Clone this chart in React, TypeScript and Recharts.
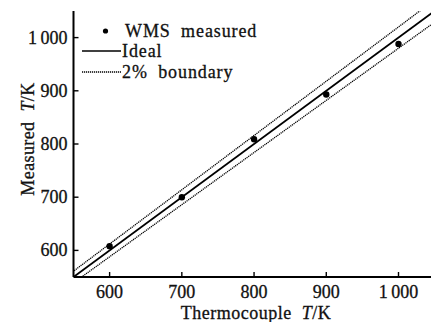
import React from "react";
import {
  ComposedChart,
  Line,
  Scatter,
  XAxis,
  YAxis,
  Legend,
} from "recharts";

// thermocouple reading vs. WMS measured temperature (K)
const thermocouple = [600, 700, 800, 900, 1000];
const measured = [608, 700, 809, 893, 988];

// ideal line and the ±2 % band, as end points
const refX = [500, 1100];
const idealY = [500, 1100];
const upperY = [510, 1122];
const lowerY = [490, 1078];

const xTicks = [600, 700, 800, 900, 1000];
const yTicks = [600, 700, 800, 900, 1000];

const FONT = '"Liberation Serif", "Times New Roman", serif';
const TXT = { fill: "#111", stroke: "#111", strokeWidth: 0.3 };

const pointData = thermocouple.map((x, i) => ({ x, y: measured[i] }));
const refData = refX.map((x, i) => ({
  x,
  ideal: idealY[i],
  upper: upperY[i],
  lower: lowerY[i],
}));

const fmt = (v: number) => (v >= 1000 ? "1\u2009000" : String(v));

const XTick = (props: any) => {
  const { x, y, payload } = props;
  return (
    <g>
      <line x1={x} x2={x} y1={y} y2={y - 5} stroke="#000" strokeWidth={1.4} />
      <text x={x} y={y + 21} textAnchor="middle" fontFamily={FONT} fontSize={18} {...TXT}>
        {fmt(payload.value)}
      </text>
    </g>
  );
};

const YTick = (props: any) => {
  const { x, y, payload } = props;
  return (
    <g>
      <line x1={x} x2={x + 5} y1={y} y2={y} stroke="#000" strokeWidth={1.4} />
      <text x={x - 6} y={y + 6} textAnchor="end" fontFamily={FONT} fontSize={18} {...TXT}>
        {fmt(payload.value)}
      </text>
    </g>
  );
};

const LegendBox = () => (
  <svg width={270} height={90} style={{ display: "block" }}>
    <g fontFamily={FONT} fontSize={18} {...TXT}>
      <circle cx={105.5} cy={31} r={2.6} fill="#000" stroke="none" />
      <text x={125} y={36.5} style={{ wordSpacing: 5, letterSpacing: 0.9 }}>WMS measured</text>
      <line x1={82} x2={121} y1={51} y2={51} stroke="#000" strokeWidth={1.5} />
      <text x={122} y={57} style={{ letterSpacing: 0.9 }}>Ideal</text>
      <line x1={82} x2={121} y1={72} y2={72} stroke="#000" strokeWidth={1.3} strokeDasharray="1.2 0.8" />
      <text x={122} y={78} style={{ wordSpacing: 5, letterSpacing: 0.9 }}>2% boundary</text>
    </g>
  </svg>
);

export default function App() {
  return (
    <div style={{ width: 431, height: 322, background: "#fff", position: "relative" }}>
      <style>{`body{margin:0}`}</style>
      <ComposedChart
        width={431}
        height={322}
        margin={{ top: 11, right: 0, bottom: 0, left: 0 }}
      >
        <XAxis
          xAxisId="top"
          orientation="top"
          type="number"
          dataKey="x"
          domain={[550, 1045]}
          allowDataOverflow
          height={0}
          tick={false}
          tickLine={false}
          axisLine={{ stroke: "#000", strokeWidth: 2.2 }}
        />
        <XAxis
          type="number"
          dataKey="x"
          domain={[550, 1045]}
          allowDataOverflow
          ticks={xTicks}
          interval={0}
          height={45}
          tickSize={0}
          tickMargin={0}
          tickLine={false}
          tick={<XTick />}
          axisLine={{ stroke: "#000", strokeWidth: 2 }}
          label={{
            content: () => (
              <text x={256} y={319} textAnchor="middle" fontFamily={FONT} fontSize={18} {...TXT} style={{ wordSpacing: 5, letterSpacing: 0.5 }}>
                Thermocouple <tspan fontStyle="italic">T</tspan>/K
              </text>
            ),
          }}
        />
        <YAxis
          type="number"
          domain={[550, 1050]}
          allowDataOverflow
          ticks={yTicks}
          interval={0}
          width={73.5}
          tickSize={0}
          tickMargin={0}
          tickLine={false}
          tick={<YTick />}
          axisLine={{ stroke: "#000", strokeWidth: 2 }}
          label={{
            content: () => (
              <text
                x={0}
                y={0}
                transform="translate(34,139) rotate(-90)"
                textAnchor="middle"
                fontFamily={FONT}
                fontSize={18}
                {...TXT}
                style={{ wordSpacing: 5, letterSpacing: 0.4 }}
              >
                Measured <tspan fontStyle="italic">T</tspan>/K
              </text>
            ),
          }}
        />
        <Legend
          layout="horizontal"
          verticalAlign="middle"
          align="center"
          wrapperStyle={{ top: 0, left: 0, width: 270, height: 90 }}
          content={() => <LegendBox />}
        />
        <Line
          data={refData}
          dataKey="upper"
          type="linear"
          stroke="#000"
          strokeWidth={1.3}
          strokeDasharray="1.2 0.8"
          dot={false}
          activeDot={false}
          isAnimationActive={false}
        />
        <Line
          data={refData}
          dataKey="lower"
          type="linear"
          stroke="#000"
          strokeWidth={1.3}
          strokeDasharray="1.2 0.8"
          dot={false}
          activeDot={false}
          isAnimationActive={false}
        />
        <Line
          data={refData}
          dataKey="ideal"
          type="linear"
          stroke="#000"
          strokeWidth={1.8}
          dot={false}
          activeDot={false}
          isAnimationActive={false}
        />
        <Scatter
          data={pointData}
          dataKey="y"
          fill="#000"
          shape={(p: any) => <circle cx={p.cx} cy={p.cy} r={3.2} fill="#000" />}
          isAnimationActive={false}
        />
      </ComposedChart>
    </div>
  );
}
